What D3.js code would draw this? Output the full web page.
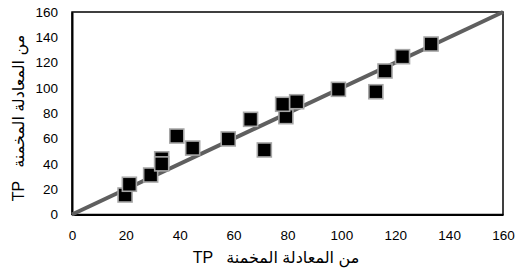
<!DOCTYPE html>
<html><head><meta charset="utf-8">
<script src="https://cdn.jsdelivr.net/npm/d3@7"></script>
<style>body{margin:0;background:#fff}svg{display:block}</style>
</head><body>
<svg id="c" width="520" height="270"></svg>
<script>
const xTicks = [0,20,40,60,80,100,120,140,160];
const yTicks = [0,20,40,60,80,100,120,140,160];
const xValues = [19.7,21.3,29.2,33.3,33.3,38.9,44.8,58.0,66.3,71.4,79.4,78.2,83.4,98.9,112.8,116.2,122.7,133.3];
const yValues = [15.4,23.9,31.2,44.0,40.0,62.0,52.5,59.7,75.2,51.0,77.3,87.1,89.1,98.9,97.0,113.4,124.7,134.7];
const lineX = [0,160];
const lineY = [0,160];
const xTitle = "TP   من المعادلة المخمنة";
const yTitle = "TP   من المعادلة المخمنة";

const svg = d3.select("#c");
const font = "'Liberation Sans','DejaVu Sans',sans-serif";
const x = d3.scaleLinear().domain([0,160]).range([72,503]);
const y = d3.scaleLinear().domain([0,160]).range([214.5,12]);

// frame
svg.append("rect").attr("x",72).attr("y",12).attr("width",431).attr("height",202.5)
  .attr("fill","none").attr("stroke","#000").attr("stroke-width",1.5);

// axes (labels only)
const xa = svg.append("g").attr("transform","translate(0,214.5)")
  .call(d3.axisBottom(x).tickValues(xTicks).tickSize(0).tickPadding(16));
xa.select(".domain").attr("stroke","#000").attr("stroke-width",2);
xa.selectAll("text").attr("font-family",font).attr("font-size",13.5).attr("fill","#000");
const ya = svg.append("g").attr("transform","translate(72,0)")
  .call(d3.axisLeft(y).tickValues(yTicks).tickSize(0).tickPadding(14));
ya.select(".domain").attr("stroke","#000").attr("stroke-width",2);
ya.selectAll("text").attr("font-family",font).attr("font-size",13.5).attr("fill","#000");

// diagonal line
svg.append("line").attr("x1",x(lineX[0])).attr("y1",y(lineY[0]))
  .attr("x2",x(lineX[1])).attr("y2",y(lineY[1]))
  .attr("stroke","#5f5f5f").attr("stroke-width",4);

// markers
const s = 14;
svg.append("g").selectAll("rect").data(xValues.map((v,i)=>[v,yValues[i]])).join("rect")
  .attr("x",d=>x(d[0])-s/2).attr("y",d=>y(d[1])-s/2).attr("width",s).attr("height",s)
  .attr("fill","#000").attr("stroke","#a6a6a6").attr("stroke-width",1.6);

// titles
svg.append("text").attr("x",276).attr("y",263).attr("text-anchor","middle")
  .style("white-space","pre")
  .attr("font-family",font).attr("font-size",16).attr("fill","#000").text(xTitle);
svg.append("text").attr("transform","translate(24,118) rotate(-90)").attr("text-anchor","middle")
  .style("white-space","pre")
  .attr("font-family",font).attr("font-size",16).attr("fill","#000").text(yTitle);
</script>
</body></html>
